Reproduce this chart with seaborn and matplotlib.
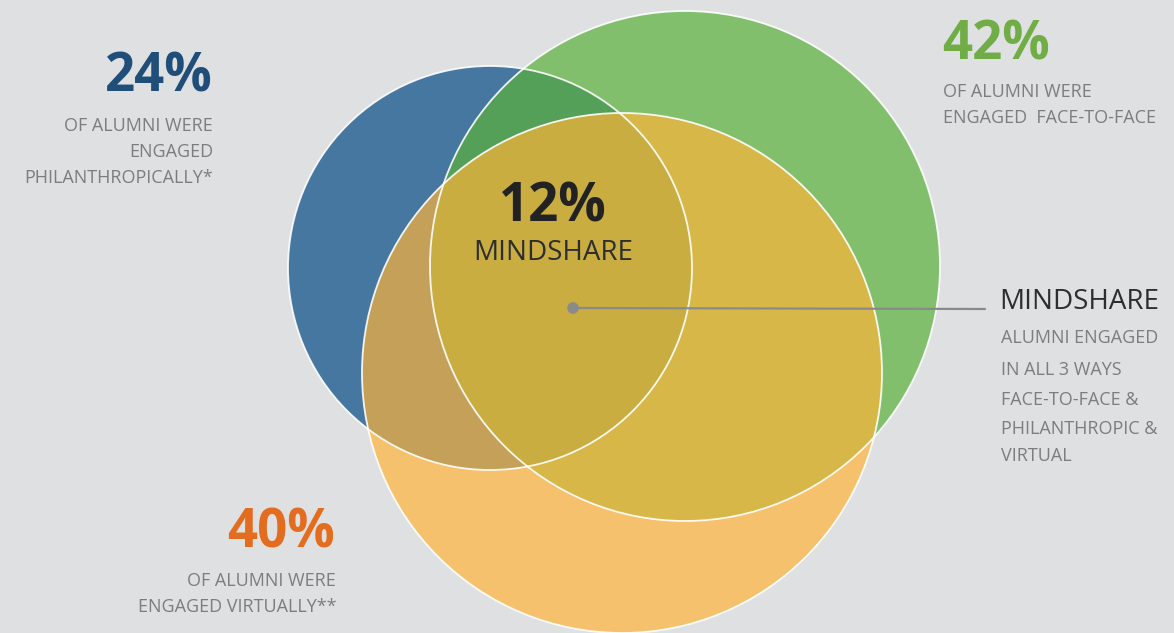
import matplotlib.pyplot as plt
import seaborn as sns
import pandas as pd
from matplotlib.patches import Circle

# Data
groups = ['Philanthropic', 'Face-to-face', 'Virtual']
pct = [24, 42, 40]
mindshare_pct = 12
sub_labels = [
    'OF ALUMNI WERE\nENGAGED\nPHILANTHROPICALLY*',
    'OF ALUMNI WERE\nENGAGED  FACE-TO-FACE',
    'OF ALUMNI WERE\nENGAGED VIRTUALLY**',
]
mindshare_lines = ['ALUMNI ENGAGED', 'IN ALL 3 WAYS', 'FACE-TO-FACE &',
                   'PHILANTHROPIC &', 'VIRTUAL']

# Layout (pixel coordinates, y down)
centers = [(490, 268), (685, 266), (622, 373)]
radii = [202, 255, 260]
fills = ['#4677a0', '#5ab23a', '#ffb438']
alphas = [1.0, 0.70, 0.69]
num_colors = ['#1f4e79', '#70ad47', '#e36c1f']

sns.set_style('white')
plt.rcParams['font.family'] = ['Open Sans', 'DejaVu Sans']

bg = '#dfe0e2'
fig = plt.figure(figsize=(11.74, 6.33), dpi=100)
fig.patch.set_facecolor(bg)
ax = fig.add_axes([0, 0, 1, 1])
ax.set_facecolor(bg)
ax.set_xlim(0, 1174)
ax.set_ylim(633, 0)
ax.axis('off')

for (cx, cy), r, c, a in zip(centers, radii, fills, alphas):
    ax.add_patch(Circle((cx, cy), r, facecolor=c, alpha=a, edgecolor='none', zorder=2))
    ax.add_patch(Circle((cx, cy), r, facecolor='none', edgecolor='white',
                        lw=1.3, alpha=0.9, zorder=3))

# leader line + dot
ax.plot([573, 985], [308, 309], color='#8a8a8a', lw=1.6, zorder=4)
dot = pd.DataFrame({'x': [573], 'y': [308]})
sns.scatterplot(data=dot, x='x', y='y', s=70, color='#8a8a8a', edgecolor='none',
                ax=ax, zorder=5, legend=False)

grey = '#7d7d7d'
big = 38
small = 13
ls = 1.6

# 24%
ax.text(213, 78, f'{pct[0]}%', ha='right', va='center', fontsize=big,
        fontweight='bold', color=num_colors[0])
ax.text(213, 152, sub_labels[0], ha='right', va='center', fontsize=small,
        color=grey, linespacing=ls)

# 42%
ax.text(942, 45, f'{pct[1]}%', ha='left', va='center', fontsize=big,
        fontweight='bold', color=num_colors[1])
ax.text(943, 105, sub_labels[1], ha='left', va='center', fontsize=small,
        color=grey, linespacing=ls)

# 40%
ax.text(335, 534, f'{pct[2]}%', ha='right', va='center', fontsize=big,
        fontweight='bold', color=num_colors[2])
ax.text(336, 594, sub_labels[2], ha='right', va='center', fontsize=small,
        color=grey, linespacing=ls)

# center mindshare
ax.text(553, 207, f'{mindshare_pct}%', ha='center', va='center', fontsize=big,
        fontweight='bold', color='#222222', zorder=6)
ax.text(553, 253, 'MINDSHARE', ha='center', va='center', fontsize=20,
        color='#2e2e2e', zorder=6)

# right mindshare legend
ax.text(999, 302, 'MINDSHARE', ha='left', va='center', fontsize=20,
        color='#2e2e2e')
ys = [338, 370, 400, 429, 456]
for y, t in zip(ys, mindshare_lines):
    ax.text(1001, y, t, ha='left', va='center', fontsize=small, color=grey)

fig.savefig('out.png', dpi=100, facecolor=bg)
